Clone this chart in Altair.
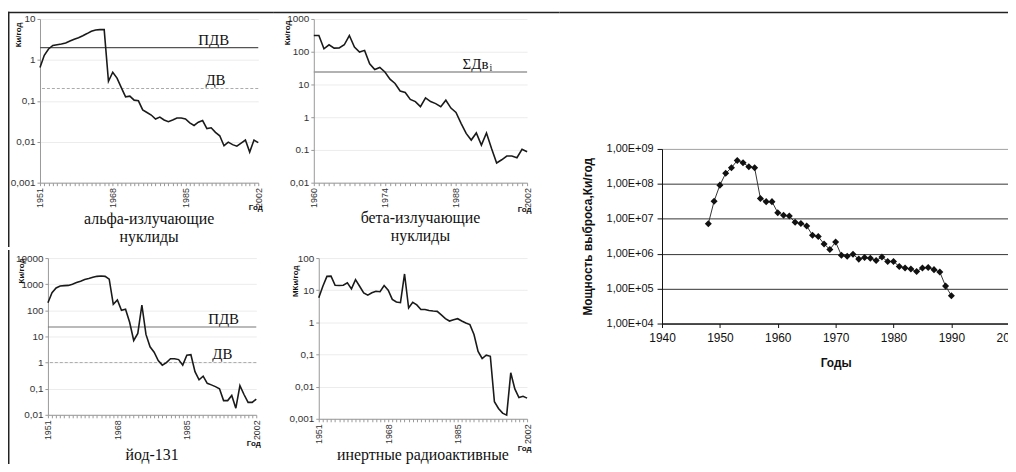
import altair as alt
import pandas as pd

# ---------------- data ----------------
alpha_years = list(range(1951, 2003))
alpha_vals = [0.65, 1.3, 1.85, 2.25, 2.35, 2.45, 2.6, 2.9, 3.2, 3.5,
              3.9, 4.4, 5.0, 5.4, 5.5, 5.5, 0.3, 0.5, 0.36, 0.21,
              0.125, 0.13, 0.104, 0.1, 0.06, 0.052, 0.045, 0.036, 0.04, 0.034,
              0.031, 0.034, 0.038, 0.038, 0.036, 0.029, 0.025, 0.03, 0.033, 0.021,
              0.022, 0.017, 0.014, 0.008, 0.0098, 0.0085, 0.0078, 0.0093, 0.011, 0.0056,
              0.011, 0.0095]
alpha_pdv = 2.0
alpha_dv = 0.2

beta_years = list(range(1960, 2003))
beta_vals = [313, 313, 123, 163, 129, 130, 163, 313, 138, 98,
             110, 43, 28.5, 33, 24, 14.5, 10.7, 6.3, 5.7, 3.5,
             3.0, 2.1, 3.9, 3.0, 2.6, 2.1, 3.3, 1.9, 1.4, 0.65,
             0.32, 0.2, 0.33, 0.14, 0.33, 0.11, 0.04, 0.05, 0.065, 0.065,
             0.058, 0.105, 0.088]
beta_sum_dv = 24.0

iod_years = list(range(1951, 2003))
iod_vals = [195, 470, 720, 850, 880, 900, 1000, 1150, 1300, 1500,
            1650, 1850, 2000, 2050, 2000, 1550, 170, 250, 100, 110,
            35, 7, 13, 160, 12, 4, 2.5, 1.2, 0.8, 1.0,
            1.4, 1.4, 1.3, 0.8, 1.9, 2.0, 0.45, 0.22, 0.3, 0.16,
            0.14, 0.12, 0.1, 0.035, 0.035, 0.055, 0.018, 0.13, 0.06, 0.03,
            0.03, 0.04]
iod_pdv = 23.0
iod_dv = 1.0

inert_years = list(range(1951, 2003))
inert_vals = [5.8, 13.3, 27, 27.5, 14.3, 14, 14.3, 16.9, 11, 21.4,
              13.3, 8.3, 7, 8.3, 9.3, 9, 14, 10, 5.2, 4.3,
              4.1, 32, 2.8, 4.2, 3.5, 2.5, 2.5, 2.35, 2.25, 2.2,
              1.7, 1.3, 1.1, 1.2, 1.3, 1.1, 0.95, 0.85, 0.42, 0.125,
              0.075, 0.095, 0.088, 0.0034, 0.0021, 0.0015, 0.0013, 0.027, 0.0085, 0.0046,
              0.005, 0.0044]

total_years = list(range(1948, 1991))
total_vals = [7.2e6, 3.2e7, 9.2e7, 2.0e8, 2.9e8, 4.7e8, 4.0e8, 3.1e8, 2.9e8, 3.8e7,
              3.1e7, 3.1e7, 1.5e7, 1.27e7, 1.2e7, 7.9e6, 7.3e6, 6.2e6, 3.4e6, 3.1e6,
              1.9e6, 1.33e6, 2.15e6, 9.0e5, 8.4e5, 9.6e5, 7.0e5, 7.8e5, 7.4e5, 6.4e5,
              8.0e5, 6.0e5, 6.0e5, 4.3e5, 3.9e5, 3.65e5, 3.1e5, 3.9e5, 4.0e5, 3.5e5,
              3.0e5, 1.18e5, 6.3e4]

SANS = 'Liberation Sans'
SERIF = 'Liberation Serif'
one = pd.DataFrame({'k': [0]})


def frame_rule(**enc):
    return alt.Chart(one).mark_rule(color='#222', strokeWidth=1.5, strokeCap='square').encode(**enc)


def build_panel(years, vals, x_first, x_step, y_domain, y_ticks, y_expr, y_title, y_title_x, y_title_y,
                w, h, refs, labels, title_lines, title_offset, frames, x_title_y):
    x_axis = alt.Axis(values=list(range(x_first, 2003)),
                      labelExpr=f"(datum.value - {x_first}) % {x_step} == 0 ? '' + datum.value : ''",
                      labelAngle=270, labelFont=SANS, labelFontSize=9, labelColor='#333',
                      labelPadding=2, labelOverlap=False, labelFlush=False,
                      tickSize=3, tickColor='#999', domainColor='#999', grid=False,
                      title='Год', titleFont=SANS, titleFontSize=8, titleFontWeight='bold',
                      titleColor='#111', titleX=w + 4, titleY=x_title_y,
                      titleAlign='right', titleBaseline='middle')
    y_axis = alt.Axis(values=y_ticks, labelExpr=y_expr, labelFont=SANS, labelFontSize=10,
                      labelColor='#333', labelPadding=2, labelOverlap=False, labelFlush=False,
                      tickSize=3, tickColor='#999', domainColor='#999', grid=True,
                      gridColor='#ececec', title=y_title, titleFont=SANS, titleFontSize=8,
                      titleFontWeight='bold', titleColor='#111', titleAngle=270,
                      titleX=y_title_x, titleY=y_title_y, titleAlign='right', titleBaseline='middle')
    x_enc = alt.X('year:Q', scale=alt.Scale(domain=[x_first, 2002], nice=False, zero=False), axis=x_axis)
    y_enc = alt.Y('value:Q', scale=alt.Scale(type='log', domain=y_domain, nice=False), axis=y_axis)

    layers = []
    for r in refs:
        rdf = pd.DataFrame({'value': [r['value']]})
        kw = dict(color=r['color'], strokeWidth=r['width'])
        if 'dash' in r:
            kw['strokeDash'] = r['dash']
        layers.append(alt.Chart(rdf).mark_rule(**kw).encode(y=y_enc))
    line_df = pd.DataFrame({'year': years, 'value': vals})
    layers.append(alt.Chart(line_df).mark_line(color='#1a1a1a', strokeWidth=1.6).encode(x=x_enc, y=y_enc))
    for lab in labels:
        ldf = pd.DataFrame({'year': [lab['year']], 'value': [lab['value']], 'text': [lab['text']]})
        layers.append(alt.Chart(ldf).mark_text(font=SERIF, fontSize=lab.get('size', 15),
                                               align=lab.get('align', 'center'), baseline='alphabetic',
                                               dx=lab.get('dx', 0), dy=lab.get('dy', -3), color='#111')
                      .encode(x=x_enc, y=y_enc, text='text:N'))
    for f in frames:
        layers.append(frame_rule(**f))
    return alt.layer(*layers).properties(
        width=w, height=h,
        title=alt.TitleParams(text=title_lines, orient='bottom', anchor='middle', frame='group',
                              font=SERIF, fontSize=16, fontWeight='normal', color='#111',
                              lineHeight=18, offset=title_offset))


comma_expr = "replace('' + datum.value, '.', ',')"

p1 = build_panel(alpha_years, alpha_vals, 1951, 17, [0.001, 10], [0.001, 0.01, 0.1, 1, 10], comma_expr,
                 'Ки/год', -22, 3, 220, 165,
                 [dict(value=alpha_pdv, color='#555', width=1.2),
                  dict(value=alpha_dv, color='#aaa', width=1, dash=[3, 2])],
                 [dict(year=1991.6, value=alpha_pdv, text='ПДВ'),
                  dict(year=1992, value=alpha_dv, text='ДВ', dy=-4)],
                 ['альфа-излучающие', 'нуклиды'], -36,
                 [dict(x=alt.value(-31.5), x2=alt.value(235), y=alt.value(-6.5)),
                  dict(x=alt.value(-31.5), y=alt.value(-6.5), y2=alt.value(229))], 25)

p2 = build_panel(beta_years, beta_vals, 1960, 14, [0.01, 1000], [0.01, 0.1, 1, 10, 100, 1000],
                 "datum.value == 0.01 ? '0,01' : '' + datum.value",
                 'Ки/год', -26, 1, 215, 165,
                 [dict(value=beta_sum_dv, color='#999', width=1.6)],
                 [dict(year=1989.3, value=beta_sum_dv, text='ΣДв', align='left'),
                  dict(year=1989.3, value=beta_sum_dv, text='i', align='left', size=10, dx=27, dy=-1)],
                 ['бета-излучающие', 'нуклиды'], -3,
                 [dict(x=alt.value(-39.5), x2=alt.value(247), y=alt.value(-6.5))], 27)

p3 = build_panel(iod_years, iod_vals, 1951, 17, [0.01, 10000], [0.01, 0.1, 1, 10, 100, 1000, 10000],
                 comma_expr, 'Ки/год', -27, 0, 210, 158,
                 [dict(value=iod_pdv, color='#777', width=1.2),
                  dict(value=iod_dv, color='#aaa', width=1, dash=[3, 2])],
                 [dict(year=1994, value=iod_pdv, text='ПДВ'),
                  dict(year=1993.7, value=iod_dv, text='ДВ', dy=-4)],
                 'йод-131', 0, [], 29)

p4 = build_panel(inert_years, inert_vals, 1951, 17, [0.001, 100], [0.001, 0.01, 0.1, 1, 10, 100],
                 comma_expr, 'МКи/год', -23, 7, 210, 162,
                 [], [], 'инертные радиоактивные', -5, [], 30)

# left frame line of the lower row
left_frame_low = frame_rule(x=alt.value(-31.5), y=alt.value(-7.5), y2=alt.value(230)).properties(width=1, height=1)

# big chart
t_x = alt.X('year:Q', scale=alt.Scale(domain=[1940, 2000], nice=False, zero=False),
            axis=alt.Axis(values=list(range(1940, 2001, 10)), format='d', labelFont=SANS, labelFontSize=12,
                          labelColor='#111', tickSize=4, tickColor='#111', domainColor='#111',
                          labelPadding=5, labelFlush=False,
                          grid=False, title='Годы', titleFont=SANS,
                          titleFontSize=12, titleFontWeight='bold', titleColor='#111',
                          titleX=175, titleY=39, titleAlign='center', titleBaseline='middle'))
t_y = alt.Y('value:Q', scale=alt.Scale(type='log', domain=[1e4, 1e9], nice=False),
            axis=alt.Axis(values=[1e4, 1e5, 1e6, 1e7, 1e8, 1e9],
                          labelExpr="'1,00E+0' + round(log(datum.value) / LN10)",
                          labelFont=SANS, labelFontSize=11, labelColor='#111', labelFlush=False,
                          labelPadding=4, tickSize=5, tickColor='#111', domainColor='#111',
                          grid=True, gridColor=alt.condition("datum.value == 1e9", alt.value('#aaa'), alt.value('#333')),
                          title='Мощность выброса,Ки/год', titleFont=SANS, titleFontSize=12,
                          titleFontWeight='bold', titleColor='#111', titleAngle=270,
                          titleX=-75, titleY=88, titleAlign='center', titleBaseline='middle'))
total_df = pd.DataFrame({'year': total_years, 'value': total_vals})
p5 = alt.layer(
    alt.Chart(total_df).mark_line(color='#333', strokeWidth=1).encode(x=t_x, y=t_y),
    alt.Chart(total_df).mark_point(shape='diamond', filled=True, size=50, color='#111', opacity=1).encode(x=t_x, y=t_y),
).properties(width=350, height=176, view=alt.ViewBackground(stroke='#aaa'))

top_frame_right = frame_rule(x=alt.value(-102.5), x2=alt.value(365), y=alt.value(-6.5)).properties(width=350, height=123)

row1 = alt.hconcat(p1, p2, spacing=-3)
row2 = alt.hconcat(left_frame_low, alt.hconcat(p3, p4, spacing=26), spacing=-28)
left = alt.vconcat(row1, row2, spacing=0)
right = alt.vconcat(top_frame_right, p5, spacing=0)
chart = alt.hconcat(left, right, spacing=-3).properties(
    autosize=alt.AutoSizeParams(type='none'),
    padding={'left': 32.25, 'top': 9.25, 'right': 975.75, 'bottom': 446.75}
).configure(font=SANS, background='white').configure_view(stroke='transparent')

chart.save('out.html', embed_options={'renderer': 'svg', 'actions': False})
